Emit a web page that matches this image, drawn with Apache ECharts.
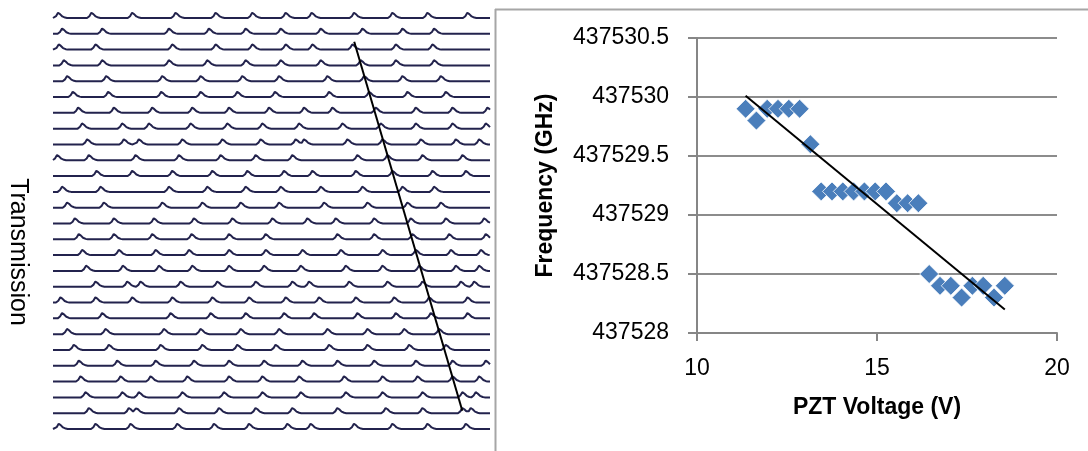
<!DOCTYPE html>
<html><head><meta charset="utf-8">
<script src="https://cdn.jsdelivr.net/npm/echarts@6/dist/echarts.min.js"></script>
<style>html,body{margin:0;padding:0;background:#fff}#c{width:1088px;height:451px}</style>
</head><body><div id="c"></div>
<script>
// ---- Right panel data (PZT voltage vs frequency) ----
const pztVoltage = [11.35, 11.65, 11.95, 12.25, 12.55, 12.85, 13.15, 13.45, 13.75, 14.05, 14.35, 14.65, 14.95, 15.25, 15.55, 15.85, 16.15, 16.45, 16.75, 17.05, 17.35, 17.65, 17.95, 18.25, 18.55];
const frequencyGHz = [437529.9, 437529.8, 437529.9, 437529.9, 437529.9, 437529.9, 437529.6, 437529.2, 437529.2, 437529.2, 437529.2, 437529.2, 437529.2, 437529.2, 437529.1, 437529.1, 437529.1, 437528.5, 437528.4, 437528.4, 437528.3, 437528.4, 437528.4, 437528.3, 437528.4];
const trendVoltage = [11.35, 18.55];
const trendFrequency = [437530.01, 437528.2];
const xTicks = [10, 20, 5];            // min, max, interval
const yTicks = [437528, 437530.5, 0.5]; // min, max, interval

// ---- Left panel data: peak positions (scan units) for each transmission trace, top to bottom ----
const tracePeaks = [
  [178, 278, 400, 530, 650, 760, 860, 938, 1065, 1180, 1285, 1405],
  [190, 310, 510, 630, 740, 845, 965, 1090, 1210, 1305],
  [180, 290, 520, 650, 760, 860, 940, 1060, 1190, 1300],
  [195, 310, 510, 625, 740, 845, 965, 1085, 1190, 1305],
  [205, 322, 490, 605, 730, 840, 985, 1095, 1210, 1325],
  [222, 328, 487, 605, 715, 828, 990, 1110, 1225, 1340],
  [238, 345, 460, 580, 690, 810, 915, 1000, 1130, 1250, 1360, 1465],
  [250, 370, 450, 575, 685, 790, 900, 1030, 1145, 1250, 1360, 1460],
  [265, 375, 420, 550, 670, 785, 890, 915, 1045, 1150, 1265, 1370, 1440],
  [175, 270, 410, 540, 665, 770, 880, 1075, 1165, 1270, 1390],
  [293, 400, 520, 640, 745, 855, 940, 1070, 1180, 1300, 1400],
  [190, 305, 510, 625, 740, 845, 965, 1090, 1210, 1305],
  [205, 315, 490, 610, 725, 840, 975, 1105, 1225, 1325],
  [228, 345, 465, 585, 700, 820, 925, 1010, 1125, 1235, 1340, 1455],
  [240, 345, 460, 578, 690, 800, 1015, 1125, 1240, 1350, 1460],
  [250, 360, 470, 570, 690, 800, 910, 1025, 1150, 1250, 1355, 1445],
  [262, 372, 480, 580, 690, 795, 905, 1040, 1150, 1260, 1370, 1440],
  [290, 385, 425, 545, 655, 770, 880, 930, 1050, 1165, 1270, 1385, 1425],
  [185, 290, 400, 520, 640, 750, 860, 960, 1070, 1185, 1290, 1405],
  [190, 310, 515, 635, 740, 855, 945, 1075, 1190, 1295, 1405],
  [205, 320, 495, 605, 725, 840, 985, 1105, 1215, 1320],
  [225, 330, 485, 610, 715, 830, 990, 1105, 1230, 1340],
  [240, 355, 470, 585, 690, 795, 910, 1015, 1125, 1250, 1360, 1460],
  [245, 365, 455, 565, 690, 790, 900, 1035, 1150, 1255, 1360, 1440],
  [260, 370, 420, 550, 675, 790, 905, 1040, 1150, 1270, 1390, 1430],
  [270, 390, 412, 540, 660, 770, 880, 1015, 1160, 1270, 1390, 1415],
  [180, 290, 395, 535, 645, 750, 865, 935, 1065, 1180, 1285, 1400]
];
const scanRange = [160, 1470];
const guideScan = [1063, 1387];
const guideTrace = [1.5, 24.85];

// peak outline (style only): offsets in scan units and relative height
const SHAPE = [[-16, 0], [-9, 0.35], [-3, 1], [3, 0.75], [10, 0.3], [18, 0.08], [24, 0]];
const PEAK_H = 0.33;
function shapeAt(x, p) {
  const d = x - p;
  if (d <= SHAPE[0][0] || d >= SHAPE[SHAPE.length - 1][0]) return 0;
  for (let i = 0; i < SHAPE.length - 1; i++) {
    const a = SHAPE[i], b = SHAPE[i + 1];
    if (d >= a[0] && d <= b[0]) return a[1] + (b[1] - a[1]) * (d - a[0]) / (b[0] - a[0]);
  }
  return 0;
}
function traceData(peaks, row) {
  let xs = [scanRange[0], scanRange[1]];
  peaks.forEach(p => SHAPE.forEach(s => xs.push(p + s[0])));
  xs = xs.filter(x => x >= scanRange[0] && x <= scanRange[1]).sort((a, b) => a - b);
  return xs.map(x => {
    let m = 0;
    peaks.forEach(p => { m = Math.max(m, shapeAt(x, p)); });
    return [x, row - PEAK_H * m];
  });
}

const FONT = 'Liberation Sans';
const chart = echarts.init(document.getElementById('c'), null, { renderer: 'canvas' });

const traceSeries = tracePeaks.map((peaks, i) => ({
  type: 'line', xAxisIndex: 0, yAxisIndex: 0, data: traceData(peaks, i),
  showSymbol: false, symbol: 'none', silent: true, clip: false,
  lineStyle: { color: '#23234d', width: 2 }
}));

const option = {
  animation: false,
  backgroundColor: '#fff',
  grid: [
    { left: 53, right: 598, top: 2.19, bottom: 6.19 },
    { left: 697, right: 31, top: 38, bottom: 118 }
  ],
  xAxis: [
    { gridIndex: 0, type: 'value', min: scanRange[0], max: scanRange[1], show: false },
    {
      gridIndex: 1, type: 'value', min: xTicks[0], max: xTicks[1], interval: xTicks[2],
      name: 'PZT Voltage (V)', nameLocation: 'middle', nameGap: 63,
      nameTextStyle: { fontFamily: FONT, fontSize: 23, fontWeight: 'bold', color: '#000' },
      axisLine: { lineStyle: { color: '#868686', width: 2 } },
      axisTick: { show: true, inside: false, length: 8, lineStyle: { color: '#868686', width: 2 } },
      axisLabel: { fontFamily: FONT, fontSize: 23, color: '#000', margin: 24 },
      splitLine: { show: false }
    }
  ],
  yAxis: [
    { gridIndex: 0, type: 'value', min: -1, max: 27, inverse: true, show: false },
    {
      gridIndex: 1, type: 'value', min: yTicks[0], max: yTicks[1], interval: yTicks[2],
      name: 'Frequency (GHz)', nameLocation: 'middle', nameGap: 140,
      nameTextStyle: { fontFamily: FONT, fontSize: 23, fontWeight: 'bold', color: '#000' },
      axisLine: { show: true, lineStyle: { color: '#868686', width: 2 } },
      axisTick: { show: true, inside: false, length: 9, lineStyle: { color: '#868686', width: 2 } },
      axisLabel: { fontFamily: FONT, fontSize: 23, color: '#000', margin: 28,
        formatter: v => String(Math.round(v * 10) / 10) },
      splitLine: { show: true, lineStyle: { color: '#8c8c8c', width: 2 } }
    }
  ],
  series: traceSeries.concat([
    {
      type: 'line', xAxisIndex: 0, yAxisIndex: 0, symbol: 'none', silent: true, clip: false,
      data: guideScan.map((x, i) => [x, guideTrace[i]]),
      lineStyle: { color: '#000', width: 2 }, z: 5
    },
    {
      type: 'scatter', xAxisIndex: 1, yAxisIndex: 1, symbol: 'diamond', symbolSize: 19,
      data: pztVoltage.map((x, i) => [x, frequencyGHz[i]]),
      itemStyle: { color: '#4a7ebb', borderColor: '#ffffff', borderWidth: 0.8, opacity: 1 }, z: 3
    },
    {
      type: 'line', xAxisIndex: 1, yAxisIndex: 1, symbol: 'none',
      data: trendVoltage.map((x, i) => [x, trendFrequency[i]]),
      lineStyle: { color: '#000', width: 2 }, z: 4
    }
  ]),
  graphic: [
    { type: 'line', shape: { x1: 495.5, y1: 9, x2: 495.5, y2: 451 }, style: { stroke: '#a6a6a6', lineWidth: 2 }, silent: true },
    { type: 'line', shape: { x1: 495, y1: 9.5, x2: 1088, y2: 9.5 }, style: { stroke: '#a6a6a6', lineWidth: 2 }, silent: true },
    { type: 'text', x: 18, y: 252, rotation: -Math.PI / 2,
      style: { text: 'Transmission', fontFamily: FONT, fontSize: 25, fill: '#000', textAlign: 'center', textVerticalAlign: 'middle' },
      silent: true }
  ]
};
chart.setOption(option);
</script>
</body></html>
